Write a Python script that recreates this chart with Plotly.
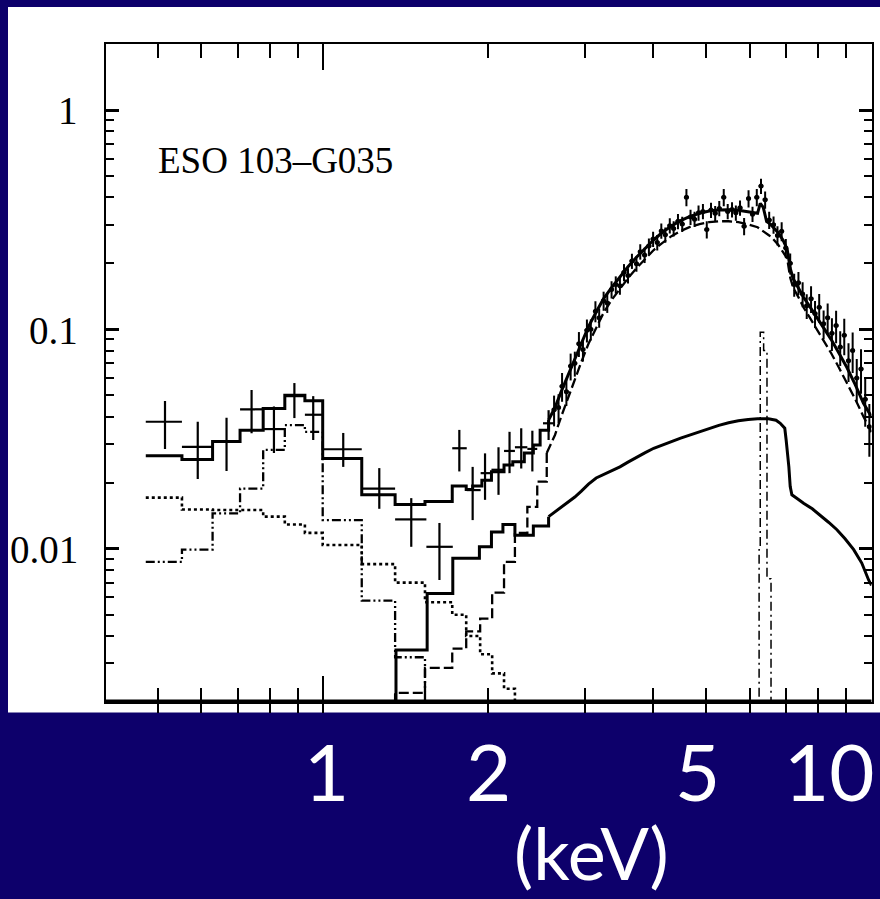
import math
import plotly.graph_objects as go

# ---------------- data (keV, counts-like flux) ----------------
# total model (step histogram): left bin edges and values
tot_E = [0.476, 0.554, 0.630, 0.707, 0.779, 0.853, 0.928, 1.0, 1.178, 1.355, 1.536, 1.722,
         1.826, 1.876, 1.95, 2.03, 2.14, 2.22, 2.33, 2.42, 2.49, 2.58, 2.65, 2.72, 2.80, 2.88,
         2.96, 3.05, 3.15, 3.25, 3.36, 3.48, 3.60, 3.73, 3.87, 4.01, 4.16, 4.32, 4.49, 4.67,
         4.86, 5.06, 5.27, 5.49, 5.72, 5.96, 6.20, 6.27, 6.35, 6.44, 6.51, 6.62, 6.76, 6.90,
         7.02, 7.11, 7.20, 7.35, 7.52, 7.72, 7.94, 8.18, 8.44, 8.72, 9.02, 9.34, 9.67, 10.0]
tot_F = [0.0265, 0.0255, 0.0308, 0.0347, 0.0436, 0.0500, 0.0472, 0.0258, 0.0176, 0.0159, 0.0164, 0.0193,
         0.0186, 0.0193, 0.0205, 0.0224, 0.0241, 0.0249, 0.0273, 0.0297, 0.0347, 0.0386, 0.044, 0.052, 0.062, 0.074,
         0.087, 0.103, 0.120, 0.138, 0.155, 0.174, 0.193, 0.213, 0.235, 0.256, 0.277, 0.296, 0.313, 0.327,
         0.338, 0.346, 0.350, 0.351, 0.349, 0.344, 0.338, 0.375, 0.360, 0.310, 0.305, 0.292, 0.276, 0.255,
         0.232, 0.190, 0.170, 0.155, 0.140, 0.127, 0.114, 0.102, 0.090, 0.078, 0.067, 0.056, 0.046, 0.040]

# absorbed power law (dashed)
pl_E = [1.25, 1.355, 1.536, 1.722, 1.826, 1.936, 2.036, 2.14, 2.24, 2.36, 2.46, 2.56, 2.65, 2.72, 2.80,
        2.88, 2.96, 3.05, 3.15, 3.25, 3.36, 3.48, 3.60, 3.73, 3.87, 4.01, 4.16, 4.32, 4.49, 4.67,
        4.86, 5.06, 5.27, 5.49, 5.72, 5.96, 6.20, 6.35, 6.51, 6.62, 6.76, 6.90, 7.02, 7.11, 7.20,
        7.35, 7.52, 7.72, 7.94, 8.18, 8.44, 8.72, 9.02, 9.34, 9.67, 10.0]
pl_F = [0.001, 0.0022, 0.00286, 0.0035, 0.0042, 0.0048, 0.0063, 0.0087, 0.0118, 0.0155, 0.0202, 0.0273, 0.033, 0.040, 0.049,
        0.059, 0.071, 0.086, 0.102, 0.119, 0.136, 0.153, 0.171, 0.190, 0.210, 0.230, 0.248, 0.266, 0.281, 0.293,
        0.302, 0.308, 0.311, 0.311, 0.308, 0.301, 0.292, 0.281, 0.268, 0.258, 0.243, 0.225, 0.210, 0.172, 0.155,
        0.141, 0.126, 0.113, 0.101, 0.089, 0.078, 0.067, 0.057, 0.048, 0.040, 0.034]

# reflection component (solid, smooth)
refl_E = [1.25, 1.36, 1.55, 1.726, 1.93, 2.03, 2.13, 2.24, 2.42, 2.58, 2.71, 2.80, 2.88, 2.96, 3.05,
          3.15, 3.25, 3.36, 3.48, 3.60, 3.73, 3.87, 4.01, 4.16, 4.32, 4.49, 4.67, 4.86, 5.06, 5.27,
          5.49, 5.72, 5.96, 6.20, 6.49, 6.70, 6.82, 6.95, 6.99, 7.03, 7.07, 7.11, 7.16, 7.35, 7.52,
          7.80, 8.07, 8.35, 8.65, 8.95, 9.28, 9.60, 9.88, 10.0]
refl_F = [0.001, 0.00345, 0.00625, 0.00904, 0.0102, 0.0119, 0.0129, 0.0115, 0.0127, 0.0140, 0.0153, 0.0162, 0.0172, 0.0183, 0.0197,
          0.0210, 0.0218, 0.0227, 0.0236, 0.0248, 0.0261, 0.0274, 0.0287, 0.0298, 0.0308, 0.0319, 0.0330, 0.0342, 0.0353, 0.0365,
          0.0375, 0.0383, 0.0388, 0.0391, 0.0391, 0.0385, 0.0373, 0.0354, 0.0313, 0.0280, 0.0236, 0.0192, 0.0176, 0.0168, 0.0161,
          0.0152, 0.0142, 0.0132, 0.0122, 0.0111, 0.0099, 0.0086, 0.0072, 0.0068]

# Fe K line (dash-dot)
line_E = [6.10, 6.24, 6.27, 6.36, 6.45, 6.56, 6.70]
line_F = [0.0015, 0.0099, 0.097, 0.080, 0.0073, 0.0015, 0.0015]

# soft thermal component (dash-dot-dot)
soft_E = [0.476, 0.554, 0.630, 0.707, 0.779, 0.853, 0.928, 1.0, 1.178, 1.355, 1.536, 1.70]
soft_F = [0.0087, 0.0099, 0.0145, 0.0188, 0.0282, 0.0366, 0.0341, 0.0135, 0.0058, 0.0032, 0.0015, 0.0015]

# scattered power law (dotted)
scat_E = [0.476, 0.554, 0.630, 0.707, 0.779, 0.853, 0.928, 1.0, 1.178, 1.355, 1.536, 1.722,
          1.826, 1.936, 2.036, 2.14, 2.24, 2.30]
scat_F = [0.0171, 0.0151, 0.0150, 0.0150, 0.0140, 0.0129, 0.0118, 0.0104, 0.0085, 0.0070, 0.0057, 0.0050,
          0.0040, 0.0033, 0.0027, 0.0023, 0.0019, 0.0019]

# wide-bin data (crosses)
wide_E = [0.516, 0.592, 0.668, 0.742, 0.815, 0.888, 0.961, 1.09, 1.268, 1.45, 1.632, 1.774, 1.876,
          1.976, 2.091, 2.19, 2.30, 2.41, 2.58]
wide_Elo = [0.476, 0.554, 0.630, 0.707, 0.779, 0.853, 0.928, 1.0, 1.178, 1.355, 1.545, 1.722, 1.83,
            1.94, 2.03, 2.14, 2.24, 2.36, 2.52]
wide_Ehi = [0.554, 0.630, 0.707, 0.779, 0.853, 0.928, 1.0, 1.178, 1.355, 1.545, 1.726, 1.83, 1.94,
            2.03, 2.14, 2.24, 2.36, 2.46, 2.64]
wide_F = [0.0379, 0.0291, 0.0309, 0.0432, 0.0351, 0.0496, 0.0408, 0.0284, 0.0188, 0.0136, 0.0102, 0.0287, 0.0185,
          0.0221, 0.0229, 0.0279, 0.0290, 0.0285, 0.0373]
wide_Flo = [0.0285, 0.0208, 0.0226, 0.0336, 0.0273, 0.0394, 0.0313, 0.0236, 0.0152, 0.0102, 0.0072, 0.0225, 0.0135,
            0.0167, 0.0176, 0.0221, 0.0232, 0.0225, 0.0313]
wide_Fhi = [0.0471, 0.0379, 0.0395, 0.0529, 0.0445, 0.0569, 0.0496, 0.0337, 0.0233, 0.0170, 0.0131, 0.0348, 0.0236,
            0.0272, 0.0290, 0.0341, 0.0354, 0.0345, 0.0428]

# fine-bin data
fine_E = [2.64, 2.69, 2.73, 2.78, 2.83, 2.88, 2.93, 2.98,
          3.03, 3.08, 3.14, 3.19, 3.25, 3.30, 3.36, 3.42, 3.48, 3.54,
          3.60, 3.66, 3.73, 3.79, 3.86, 3.93, 4.00, 4.07, 4.14, 4.21, 4.29, 4.36, 4.44, 4.52,
          4.60, 4.68, 4.76, 4.84, 4.93, 5.01, 5.10, 5.19, 5.28, 5.38, 5.47, 5.57, 5.66, 5.76, 5.86, 5.97, 6.07,
          6.18, 6.29, 6.40, 6.51, 6.63, 6.74, 6.86, 6.98, 7.11,
          7.23, 7.36, 7.49, 7.62, 7.76, 7.89, 8.03, 8.18, 8.32,
          8.47, 8.62, 8.77, 8.92, 9.08, 9.24, 9.40, 9.57, 9.74, 9.91]
fine_F = [0.043, 0.044, 0.055, 0.052, 0.068, 0.070, 0.086, 0.081,
          0.099, 0.100, 0.121, 0.113, 0.135, 0.132, 0.152, 0.160, 0.158, 0.182,
          0.176, 0.205, 0.199, 0.226, 0.218, 0.240, 0.258, 0.249, 0.281, 0.270, 0.297, 0.288, 0.311, 0.302,
          0.400, 0.325, 0.318, 0.340, 0.345, 0.285, 0.350, 0.338, 0.356, 0.400, 0.345, 0.352, 0.340, 0.358, 0.295, 0.395, 0.335,
          0.400, 0.450, 0.390, 0.315, 0.300, 0.268, 0.280, 0.235, 0.200,
          0.160, 0.163, 0.145, 0.128, 0.138, 0.118, 0.126, 0.106, 0.113,
          0.096, 0.104, 0.083, 0.094, 0.072, 0.080, 0.060, 0.066, 0.048, 0.036]
fine_rel_err = [0.16, 0.15, 0.15, 0.14, 0.14, 0.13, 0.13, 0.12,
                0.12, 0.11, 0.11, 0.10, 0.10, 0.10, 0.09, 0.09, 0.09, 0.09,
                0.08, 0.08, 0.08, 0.08, 0.08, 0.08, 0.08, 0.08, 0.08, 0.08, 0.08, 0.08, 0.08, 0.08,
                0.09, 0.08, 0.08, 0.08, 0.08, 0.09, 0.08, 0.08, 0.08, 0.09, 0.08, 0.08, 0.08, 0.08, 0.09, 0.09, 0.08,
                0.09, 0.08, 0.09, 0.09, 0.09, 0.10, 0.10, 0.10, 0.11,
                0.12, 0.12, 0.13, 0.13, 0.14, 0.14, 0.15, 0.15, 0.16,
                0.17, 0.17, 0.18, 0.19, 0.20, 0.21, 0.22, 0.23, 0.25, 0.27]

# axis labels
x_label_vals = [1, 2, 5, 10]
x_label_text = ["1", "2", "5", "10"]
y_label_vals = [1, 0.1, 0.01]
y_label_text = ["1", "0.1", "0.01"]
source_name = "ESO 103\u2013G035"
x_unit = "(keV)"

# ---------------- figure ----------------
NAVY = "#0d006b"
SMOOTH_FROM = 2.6   # above this energy the model bins are fine enough to look smooth
fig = go.Figure()


def model(E, F, width, dash):
    """Step histogram at low energy, smooth curve where the binning is fine."""
    lo = [i for i, e in enumerate(E) if e <= SMOOTH_FROM]
    hi = [i for i, e in enumerate(E) if e >= SMOOTH_FROM - 0.1]
    if lo:
        ex = [E[i] for i in lo]
        fy = [F[i] for i in lo]
        if hi:
            ex.append(E[hi[0]] if E[hi[0]] > ex[-1] else ex[-1])
            fy.append(fy[-1])
        fig.add_trace(go.Scatter(x=ex, y=fy, mode="lines", hoverinfo="skip", showlegend=False,
                                 line=dict(color="black", width=width, dash=dash, shape="hv")))
    if hi:
        fig.add_trace(go.Scatter(x=[E[i] for i in hi], y=[F[i] for i in hi], mode="lines",
                                 hoverinfo="skip", showlegend=False,
                                 line=dict(color="black", width=width, dash=dash, shape="linear")))


def step(E, F, width, dash):
    fig.add_trace(go.Scatter(x=E, y=F, mode="lines", hoverinfo="skip", showlegend=False,
                             line=dict(color="black", width=width, dash=dash, shape="hv")))


step(scat_E, scat_F, 2.6, "dot")
step(soft_E, soft_F, 2.3, "9px,3px,2px,3px,2px,3px")
model(pl_E, pl_F, 2.3, "10px,4px")
step(line_E, line_F, 1.5, "9px,4px,2px,4px")
model(refl_E, refl_F, 3.0, "solid")
model(tot_E, tot_F, 3.0, "solid")

fig.add_trace(go.Scatter(
    x=wide_E, y=wide_F, mode="markers", marker=dict(size=1, color="black"),
    hoverinfo="skip", showlegend=False,
    error_x=dict(type="data", symmetric=False,
                 array=[h - e for h, e in zip(wide_Ehi, wide_E)],
                 arrayminus=[e - l for e, l in zip(wide_E, wide_Elo)],
                 color="black", thickness=2.2, width=0),
    error_y=dict(type="data", symmetric=False,
                 array=[h - f for h, f in zip(wide_Fhi, wide_F)],
                 arrayminus=[f - l for f, l in zip(wide_F, wide_Flo)],
                 color="black", thickness=2.2, width=0)))

fig.add_trace(go.Scatter(
    x=fine_E, y=fine_F, mode="markers", marker=dict(size=5, color="black"),
    hoverinfo="skip", showlegend=False,
    error_x=dict(type="percent", value=1.0, color="black", thickness=2.2, width=0),
    error_y=dict(type="data", array=[f * r for f, r in zip(fine_F, fine_rel_err)],
                 color="black", thickness=2.0, width=0)))

# dummy trace for the outward tick overlay axis
fig.add_trace(go.Scatter(x=[1], y=[0.1], xaxis="x2", mode="markers", opacity=0,
                         hoverinfo="skip", showlegend=False))

x_minor = [0.5, 0.6, 0.7, 0.8, 0.9, 2, 3, 4, 5, 6, 7, 8, 9]
y_minor = [m * d for d in (0.001, 0.01, 0.1, 1) for m in range(2, 10) if 0.002 <= m * d <= 2]

XDOM = [105.5 / 880, 871.5 / 880]
YDOM = [(899 - 702) / 899, (899 - 43.5) / 899]

fig.update_layout(
    width=880, height=899, autosize=False,
    margin=dict(l=0, r=0, t=0, b=0),
    paper_bgcolor=NAVY, plot_bgcolor="white",
    showlegend=False,
    xaxis=dict(type="log", range=[math.log10(0.402), 1.0], domain=XDOM, anchor="y",
               showgrid=False, zeroline=False, showline=True, linecolor="black", linewidth=2,
               mirror="ticks", ticks="inside", ticklen=26, tickwidth=2, tickcolor="black",
               tickmode="array", tickvals=[1, 10], showticklabels=False,
               minor=dict(tickmode="array", tickvals=x_minor, ticks="inside", ticklen=14,
                          tickwidth=2, tickcolor="black", showgrid=False)),
    xaxis2=dict(type="log", range=[math.log10(0.402), 1.0], domain=XDOM, anchor="y",
                overlaying="x", side="bottom", showgrid=False, zeroline=False, showline=False,
                ticks="outside", ticklen=10, tickwidth=2, tickcolor="black",
                tickmode="array", tickvals=[1] + x_minor, showticklabels=False),
    yaxis=dict(type="log", range=[math.log10(0.002), math.log10(2.01)], domain=YDOM,
               showgrid=False, zeroline=False, showline=True, linecolor="black", linewidth=2,
               mirror="ticks", ticks="inside", ticklen=13, tickwidth=2.5, tickcolor="black",
               tickmode="array", tickvals=y_label_vals, showticklabels=False,
               minor=dict(tickmode="array", tickvals=y_minor, ticks="inside", ticklen=8,
                          tickwidth=2, tickcolor="black", showgrid=False)),
)

# white panel behind the plot
fig.add_shape(type="rect", xref="paper", yref="paper", x0=8 / 880, x1=1.0,
              y0=(899 - 712.5) / 899, y1=(899 - 7) / 899,
              fillcolor="white", line=dict(width=0), layer="below")
# heavy bottom frame line
fig.add_shape(type="line", xref="paper", yref="paper", x0=XDOM[0], x1=XDOM[1],
              y0=(899 - 701.5) / 899, y1=(899 - 701.5) / 899,
              line=dict(color="black", width=4))

# y tick labels (serif, black)
for v, t in zip(y_label_vals, y_label_text):
    fig.add_annotation(x=80 / 880, xref="paper", xanchor="right", y=math.log10(v), yref="y",
                       yanchor="middle", yshift=-1, text=t, showarrow=False,
                       font=dict(family="Liberation Serif", size=39, color="black"))

# source name
fig.add_annotation(x=156 / 880, xref="paper", xanchor="left", y=(899 - 160) / 899, yref="paper",
                   yanchor="middle", text=source_name, showarrow=False,
                   font=dict(family="Liberation Serif", size=37, color="black"))

# x tick labels (white, on navy)
label_shift = [4, 1, -9, 4]
for v, t, s in zip(x_label_vals, x_label_text, label_shift):
    fig.add_annotation(x=math.log10(v), xref="x", xanchor="right" if v == 10 else "center",
                       xshift=s, y=(899 - 771) / 899, yref="paper", yanchor="middle",
                       text=t, showarrow=False,
                       font=dict(family="Lato", size=78, color="white"))

fig.add_annotation(x=591 / 880, xref="paper", xanchor="center", y=(899 - 852) / 899, yref="paper",
                   yanchor="middle", text=x_unit, showarrow=False,
                   font=dict(family="Lato", size=72, color="white"))

fig.write_html("out.html")
